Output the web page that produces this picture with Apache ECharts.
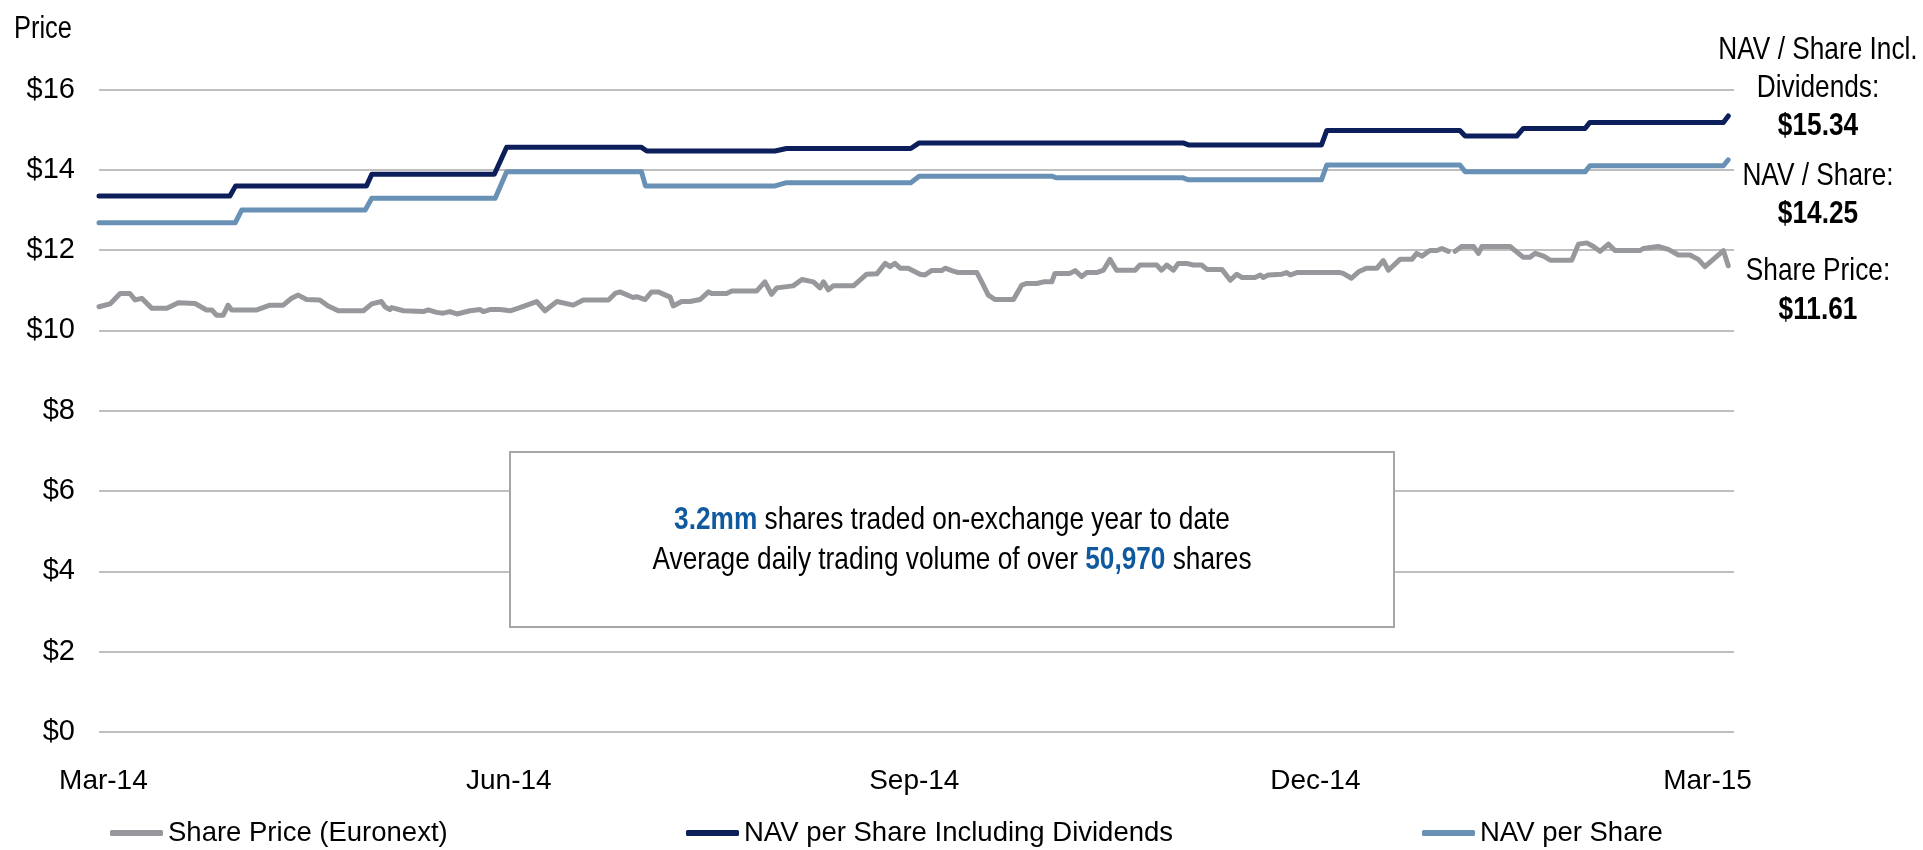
<!DOCTYPE html>
<html>
<head>
<meta charset="utf-8">
<script src="https://cdn.jsdelivr.net/npm/echarts@6/dist/echarts.min.js"></script>
<style>
  html, body { margin: 0; padding: 0; background: #fff; }
  #chart { width: 1923px; height: 850px; }
</style>
</head>
<body>
<div id="chart"></div>
<script>
// ---------------- DATA (x = calendar days after 28-Feb-2014) ----------------
const seriesNames = ['Share Price (Euronext)', 'NAV per Share Including Dividends', 'NAV per Share'];

const tickLabels = ['Mar-14', 'Jun-14', 'Sep-14', 'Dec-14', 'Mar-15'];
const tickDays   = [1, 93, 185, 276, 365];

const priceDays = [0, 2.5, 4.8, 7.0, 8.2, 9.7, 12.0, 15.4, 18.0, 21.8, 24.4, 25.6, 26.7, 28.2, 29.3, 30.1,
  35.8, 38.8, 41.8, 43.7, 45.2, 47.1, 50.1, 52.0, 54.3, 60.0, 61.9, 64.1, 64.9, 66.0, 66.4, 69.1,
  73.6, 74.7, 76.6, 78.1, 79.6, 81.2, 84.2, 86.5, 87.2, 88.7, 91.0, 93.3, 95.5, 99.3, 101.2, 103.9,
  107.6, 109.9, 115.6, 117.1, 118.2, 121.2, 122.0, 123.9, 125.4, 126.9, 129.6, 130.3, 132.2, 134.1,
  136.4, 138.3, 139.0, 142.4, 143.6, 149.2, 151.1, 152.6, 153.8, 157.5, 159.5, 162.1, 163.6, 164.4,
  165.5, 166.6, 171.2, 174.2, 176.5, 178.4, 179.5, 180.6, 181.8, 183.6, 186.3, 187.4, 188.9, 191.2,
  192.0, 193.5, 195.0, 199.2, 200.3, 201.8, 203.3, 207.5, 209.4, 210.5, 212.8, 214.3, 216.2, 216.9,
  220.3, 221.5, 223.0, 224.1, 226.4, 227.9, 229.4, 230.9, 235.1, 236.2, 240.0, 241.1, 242.3, 243.8,
  244.9, 246.8, 248.3, 250.2, 251.4, 254.8, 256.7, 258.2, 259.3, 262.3, 263.5, 264.2, 265.3, 268.4,
  269.5, 270.3, 271.8, 281.6, 282.3, 284.2, 285.8, 287.6, 290.0, 291.4, 292.6, 295.2, 297.9, 299.0,
  300.2, 302.0, 303.6, 304.7, 306.2, 307.0, 307.7, 309.2, 311.9, 313.0, 313.8, 320.2, 323.2, 324.7,
  325.9, 327.8, 329.3, 334.2, 335.7, 337.6, 339.1, 340.6, 342.5, 344.0, 349.7, 350.4, 353.8, 356.1,
  358.4, 361.0, 362.9, 364.4, 368.6, 369.7];
const priceVals = [10.59, 10.66, 10.92, 10.92, 10.76, 10.80, 10.55, 10.55, 10.69, 10.67, 10.51, 10.51, 10.38, 10.38, 10.63, 10.51,
  10.51, 10.63, 10.63, 10.80, 10.88, 10.77, 10.76, 10.61, 10.49, 10.49, 10.66, 10.72, 10.59, 10.52, 10.57, 10.49,
  10.47, 10.51, 10.45, 10.43, 10.47, 10.41, 10.49, 10.52, 10.47, 10.52, 10.52, 10.49, 10.57, 10.72, 10.49, 10.72,
  10.63, 10.76, 10.76, 10.92, 10.96, 10.82, 10.84, 10.77, 10.96, 10.96, 10.83, 10.61, 10.72, 10.72,
  10.77, 10.96, 10.92, 10.92, 10.98, 10.98, 11.21, 10.90, 11.06, 11.11, 11.27, 11.21, 11.06, 11.21,
  11.01, 11.11, 11.11, 11.40, 11.41, 11.67, 11.59, 11.67, 11.55, 11.55, 11.40, 11.38, 11.49, 11.49,
  11.55, 11.49, 11.44, 11.44, 11.21, 10.88, 10.77, 10.77, 11.13, 11.17, 11.17, 11.21, 11.21, 11.42,
  11.42, 11.49, 11.34, 11.44, 11.44, 11.50, 11.77, 11.50, 11.50, 11.63, 11.63, 11.50, 11.63, 11.50,
  11.67, 11.67, 11.63, 11.63, 11.52, 11.52, 11.25, 11.40, 11.32, 11.32, 11.38, 11.32, 11.38, 11.40,
  11.44, 11.38, 11.44, 11.44, 11.42, 11.30, 11.46, 11.55, 11.55, 11.74, 11.50, 11.77, 11.77, 11.92,
  11.85, 11.99, 11.99, 12.04, 11.97, null, 11.97, 12.09, 12.09, 11.92, 12.09, 12.09, 11.82, 11.82,
  11.92, 11.85, 11.75, 11.75, 12.15, 12.18, 12.09, 11.97, 12.15, 11.99, 11.99, 12.04, 12.09, 12.02,
  11.88, 11.88, 11.77, 11.59, 11.99, 11.61];

const navDivDays = [0, 29.7, 31.0, 60.7, 61.9, 89.7, 92.5, 123.1, 124.3, 153.4, 156.0, 184.2, 186.1,
  246.0, 247.2, 277.4, 278.6, 308.8, 310.0, 321.7, 323.2, 337.2, 338.3, 368.6, 369.7];
const navDivVals = [13.35, 13.35, 13.60, 13.60, 13.89, 13.89, 14.56, 14.56, 14.47, 14.47, 14.53, 14.53, 14.67,
  14.67, 14.62, 14.62, 14.98, 14.98, 14.84, 14.84, 15.03, 15.03, 15.18, 15.18, 15.34];

const navDays = [0, 30.9, 32.4, 60.4, 61.9, 89.9, 92.5, 123.1, 124.0, 153.4, 156.0, 184.2, 186.1,
  216.2, 217.3, 246.0, 247.2, 277.4, 278.6, 308.8, 310.0, 337.2, 338.3, 368.6, 369.7];
const navVals = [12.68, 12.68, 13.00, 13.00, 13.29, 13.29, 13.95, 13.95, 13.60, 13.60, 13.68, 13.68, 13.84,
  13.84, 13.80, 13.80, 13.75, 13.75, 14.12, 14.12, 13.95, 13.95, 14.10, 14.10, 14.25];

const boxLine1 = ['3.2mm', ' shares traded on-exchange year to date'];
const boxLine2 = ['Average daily trading volume of over ', '50,970', ' shares'];

const sideNotes = [
  { text: 'NAV / Share Incl.', bold: false },
  { text: 'Dividends:', bold: false },
  { text: '$15.34', bold: true },
  { text: 'NAV / Share:', bold: false },
  { text: '$14.25', bold: true },
  { text: 'Share Price:', bold: false },
  { text: '$11.61', bold: true }
];
// ---------------------------------------------------------------------------

const FONT = "'Liberation Sans', Arial, sans-serif";
const NARROW = 0.82;   // Arial Narrow look: Liberation Sans squeezed horizontally
const colors = ['#96989B', '#0C1F5B', '#6891B5'];
const pair = (xs, ys) => xs.map((x, i) => [x, ys[i]]);

const sideY = [50, 88, 126, 176, 214, 271, 310];

const chart = echarts.init(document.getElementById('chart'), null, { renderer: 'canvas' });

const lineCommon = {
  type: 'line', showSymbol: false, symbol: 'none', animation: false,
  connectNulls: false
};

const legendCommon = {
  icon: 'roundRect', itemWidth: 53, itemHeight: 6, selectedMode: false,
  textStyle: { fontSize: 27.5, fontFamily: FONT, color: '#000' }
};

chart.setOption({
  animation: false,
  backgroundColor: '#fff',
  color: colors,
  grid: { left: 99, right: 189, top: 89.5, bottom: 118, containLabel: false },
  xAxis: {
    type: 'value', min: 0, max: 371,
    axisLine: { show: false }, axisTick: { show: false }, splitLine: { show: false },
    axisLabel: {
      customValues: tickDays,
      formatter: v => tickLabels[tickDays.indexOf(v)],
      fontSize: 28, fontFamily: FONT, color: '#000', margin: 35
    }
  },
  yAxis: {
    type: 'value', min: 0, max: 16, interval: 2,
    axisLine: { show: false }, axisTick: { show: false },
    splitLine: { lineStyle: { color: '#BFBFBF', width: 2 } },
    axisLabel: {
      formatter: v => '$' + v,
      fontSize: 29, fontFamily: FONT, color: '#000', margin: 24
    }
  },
  legend: [
    Object.assign({ data: [seriesNames[0]], left: 105, top: 814 }, legendCommon),
    Object.assign({ data: [seriesNames[1]], left: 681, top: 814 }, legendCommon),
    Object.assign({ data: [seriesNames[2]], left: 1417, top: 814 }, legendCommon)
  ],
  series: [
    Object.assign({ name: seriesNames[0], data: pair(priceDays, priceVals), z: 3,
      lineStyle: { color: colors[0], width: 5, join: 'round', cap: 'round' } }, lineCommon),
    Object.assign({ name: seriesNames[1], data: pair(navDivDays, navDivVals), z: 4,
      lineStyle: { color: colors[1], width: 5, join: 'round', cap: 'round' } }, lineCommon),
    Object.assign({ name: seriesNames[2], data: pair(navDays, navVals), z: 4,
      lineStyle: { color: colors[2], width: 5, join: 'round', cap: 'round' } }, lineCommon)
  ],
  graphic: [
    { type: 'text', x: 14, y: 29, z: 100, scaleX: NARROW,
      style: { text: 'Price', fontSize: 31, fontFamily: FONT, fill: '#000', align: 'left', verticalAlign: 'middle' } },
    { type: 'rect', z: 100, shape: { x: 510, y: 452, width: 884, height: 175 },
      style: { fill: '#fff', stroke: '#A6A6A6', lineWidth: 2 } },
    { type: 'text', z: 101, x: 952, y: 540, scaleX: NARROW,
      style: {
        text: '{b|' + boxLine1[0] + '}{n|' + boxLine1[1] + '}\n{n|' + boxLine2[0] + '}{b|' + boxLine2[1] + '}{n|' + boxLine2[2] + '}',
        align: 'center', verticalAlign: 'middle',
        fontSize: 32, fontFamily: FONT, fill: '#000', lineHeight: 40,
        rich: {
          n: { fontSize: 32, fontFamily: FONT, fill: '#000', color: '#000', lineHeight: 40 },
          b: { fontSize: 32, fontFamily: FONT, fontWeight: 'bold', fill: '#0F5A9E', color: '#0F5A9E', lineHeight: 40 }
        }
      } }
  ].concat(sideNotes.map((n, i) => ({
    type: 'text', z: 100, x: 1818, y: sideY[i], scaleX: NARROW,
    style: { text: n.text, fontSize: 32, fontFamily: FONT, fontWeight: n.bold ? 'bold' : 'normal',
      fill: '#000', align: 'center', verticalAlign: 'middle' }
  })))
});
</script>
</body>
</html>
